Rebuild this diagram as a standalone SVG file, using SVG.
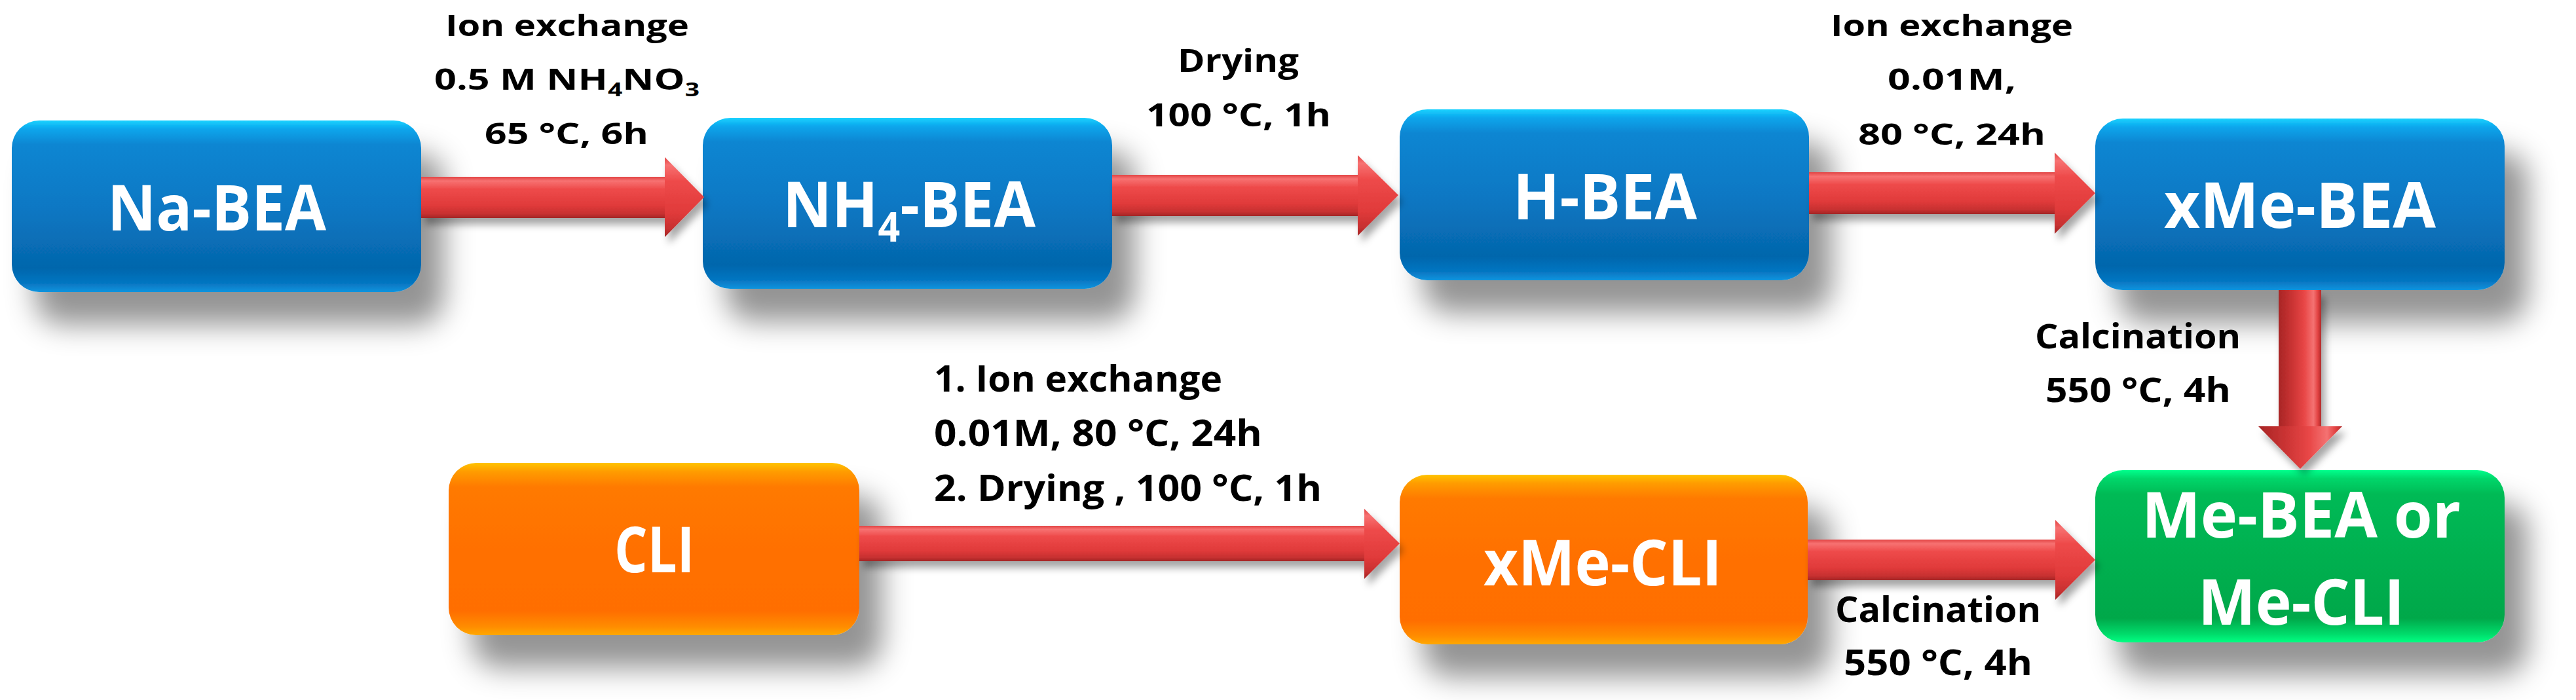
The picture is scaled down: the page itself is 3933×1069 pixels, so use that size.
<svg xmlns="http://www.w3.org/2000/svg" width="3933" height="1069" viewBox="0 0 3933 1069">
<style>
.lbl{font-family:"Open Sans","Liberation Sans",sans-serif;font-weight:700;fill:#000}
.bt{font-family:"Open Sans","Liberation Sans",sans-serif;font-weight:700;fill:#fff}
.blue{fill:url(#gBlue)}
.orange{fill:url(#gOrange)}
.green{fill:url(#gGreen)}
.box{filter:url(#boxShadow)}
.rh{fill:url(#gRedH)}
.rv{fill:url(#gRedV)}
.arr{filter:url(#arrShadow)}
</style>
<defs>
<linearGradient id="gBlue" x1="0" y1="0" x2="0" y2="1">
<stop offset="0" stop-color="#1CD2FF"/>
<stop offset="0.05" stop-color="#08A6EC"/>
<stop offset="0.14" stop-color="#0A86D2"/>
<stop offset="0.5" stop-color="#0A78C4"/>
<stop offset="0.86" stop-color="#0566AC"/>
<stop offset="0.95" stop-color="#0676C2"/>
<stop offset="1" stop-color="#1194DE"/>
</linearGradient>
<linearGradient id="gOrange" x1="0" y1="0" x2="0" y2="1">
<stop offset="0" stop-color="#FFC400"/>
<stop offset="0.05" stop-color="#FF9C00"/>
<stop offset="0.14" stop-color="#FF7A00"/>
<stop offset="0.5" stop-color="#FF7000"/>
<stop offset="0.86" stop-color="#FF6E00"/>
<stop offset="0.95" stop-color="#FF8C00"/>
<stop offset="1" stop-color="#FFA800"/>
</linearGradient>
<linearGradient id="gGreen" x1="0" y1="0" x2="0" y2="1">
<stop offset="0" stop-color="#00FF8C"/>
<stop offset="0.05" stop-color="#00D66A"/>
<stop offset="0.14" stop-color="#00BA55"/>
<stop offset="0.5" stop-color="#00B050"/>
<stop offset="0.86" stop-color="#00A84A"/>
<stop offset="0.95" stop-color="#00DA6A"/>
<stop offset="1" stop-color="#00FF82"/>
</linearGradient>
<linearGradient id="gRedH" x1="0" y1="0" x2="0" y2="1">
<stop offset="0" stop-color="#E24444"/>
<stop offset="0.1" stop-color="#F77272"/>
<stop offset="0.3" stop-color="#EE4A4A"/>
<stop offset="0.7" stop-color="#E03A3A"/>
<stop offset="0.9" stop-color="#C63030"/>
<stop offset="1" stop-color="#A22525"/>
</linearGradient>
<linearGradient id="gRedV" x1="0" y1="0" x2="1" y2="0">
<stop offset="0" stop-color="#A82626"/>
<stop offset="0.3" stop-color="#C83232"/>
<stop offset="0.6" stop-color="#E84646"/>
<stop offset="0.82" stop-color="#F47272"/>
<stop offset="0.92" stop-color="#E24242"/>
<stop offset="1" stop-color="#B02A2A"/>
</linearGradient>
<filter id="boxShadow" x="-20%" y="-20%" width="150%" height="160%">
<feDropShadow dx="35" dy="50" stdDeviation="22" flood-color="#000" flood-opacity="0.42"/>
</filter>
<filter id="arrShadow" x="-10%" y="-30%" width="120%" height="180%">
<feDropShadow dx="6" dy="10" stdDeviation="6" flood-color="#000" flood-opacity="0.35"/>
</filter>
</defs>
<rect width="3933" height="1069" fill="#fff"/>

<g id="node-na-bea">
<rect class="box blue" x="18" y="184" width="625" height="262" rx="42"/>
<text class="bt" x="164" y="352" font-size="97" textLength="334" lengthAdjust="spacingAndGlyphs">Na-BEA</text>
</g>
<g id="node-nh4-bea">
<rect class="box blue" x="1073" y="180" width="625" height="261" rx="42"/>
<text class="bt" x="1195" y="347" font-size="97" textLength="386" lengthAdjust="spacingAndGlyphs">NH<tspan font-size="62" dy="22">4</tspan><tspan dy="-22">-BEA</tspan></text>
</g>
<g id="node-h-bea">
<rect class="box blue" x="2137" y="167" width="625" height="261" rx="42"/>
<text class="bt" x="2310" y="335" font-size="97" textLength="281" lengthAdjust="spacingAndGlyphs">H-BEA</text>
</g>
<g id="node-xme-bea">
<rect class="box blue" x="3199" y="181" width="625" height="262" rx="42"/>
<text class="bt" x="3304" y="348" font-size="97" textLength="415" lengthAdjust="spacingAndGlyphs">xMe-BEA</text>
</g>
<g id="node-cli">
<rect class="box orange" x="685" y="707" width="627" height="263" rx="42"/>
<text class="bt" x="938" y="874" font-size="97" textLength="122" lengthAdjust="spacingAndGlyphs">CLI</text>
</g>
<g id="node-xme-cli">
<rect class="box orange" x="2137" y="725" width="623" height="259" rx="42"/>
<text class="bt" x="2265" y="894" font-size="97" textLength="364" lengthAdjust="spacingAndGlyphs">xMe-CLI</text>
</g>
<g id="node-me">
<rect class="box green" x="3199" y="718" width="625" height="263" rx="42"/>
<text class="bt" x="3270" y="821" font-size="97" textLength="487" lengthAdjust="spacingAndGlyphs">Me-BEA or</text>
<text class="bt" x="3356" y="954" font-size="97" textLength="315" lengthAdjust="spacingAndGlyphs">Me-CLI</text>
</g>

<g id="connectors">
<g class="arr">
<rect class="rh" x="643" y="270" width="374" height="63"/>
<polygon class="rh" points="1015,240 1075,301 1015,362"/>
</g>
<g class="arr">
<rect class="rh" x="1698" y="267" width="377" height="63"/>
<polygon class="rh" points="2073,237 2135,298 2073,360"/>
</g>
<g class="arr">
<rect class="rh" x="2762" y="263" width="377" height="64"/>
<polygon class="rh" points="3137,233 3199,295 3137,357"/>
</g>
<g class="arr">
<rect class="rv" x="3479" y="443" width="65" height="210"/>
<polygon class="rv" points="3448,651 3576,651 3512,716"/>
</g>
<g class="arr">
<rect class="rh" x="1312" y="803" width="773" height="54"/>
<polygon class="rh" points="2083,777 2137,830 2083,884"/>
</g>
<g class="arr">
<rect class="rh" x="2760" y="824" width="380" height="62"/>
<polygon class="rh" points="3138,794 3199,855 3138,916"/>
</g>
</g>

<g id="labels">
<text class="lbl" x="680" y="55" font-size="44" textLength="372" lengthAdjust="spacingAndGlyphs">Ion exchange</text>
<text class="lbl" x="663" y="137" font-size="44" textLength="405" lengthAdjust="spacingAndGlyphs">0.5 M NH<tspan font-size="29" dy="10">4</tspan><tspan dy="-10">NO</tspan><tspan font-size="29" dy="10">3</tspan></text>
<text class="lbl" x="740" y="220" font-size="44" textLength="250" lengthAdjust="spacingAndGlyphs">65 °C, 6h</text>

<text class="lbl" x="1798" y="110" font-size="48" textLength="185" lengthAdjust="spacingAndGlyphs">Drying</text>
<text class="lbl" x="1750" y="193" font-size="48" textLength="282" lengthAdjust="spacingAndGlyphs">100 °C, 1h</text>

<text class="lbl" x="2795" y="55" font-size="44" textLength="370" lengthAdjust="spacingAndGlyphs">Ion exchange</text>
<text class="lbl" x="2882" y="137" font-size="44" textLength="196" lengthAdjust="spacingAndGlyphs">0.01M,</text>
<text class="lbl" x="2837" y="221" font-size="44" textLength="286" lengthAdjust="spacingAndGlyphs">80 °C, 24h</text>

<text class="lbl" x="3107" y="532" font-size="52" textLength="314" lengthAdjust="spacingAndGlyphs">Calcination</text>
<text class="lbl" x="3123" y="614" font-size="52" textLength="283" lengthAdjust="spacingAndGlyphs">550 °C, 4h</text>

<text class="lbl" x="1426" y="598" font-size="56" textLength="440" lengthAdjust="spacingAndGlyphs">1. Ion exchange</text>
<text class="lbl" x="1426" y="681" font-size="56" textLength="501" lengthAdjust="spacingAndGlyphs">0.01M, 80 °C, 24h</text>
<text class="lbl" x="1426" y="765" font-size="56" textLength="592" lengthAdjust="spacingAndGlyphs">2. Drying , 100 °C, 1h</text>

<text class="lbl" x="2802" y="950" font-size="54" textLength="314" lengthAdjust="spacingAndGlyphs">Calcination</text>
<text class="lbl" x="2815" y="1031" font-size="54" textLength="288" lengthAdjust="spacingAndGlyphs">550 °C, 4h</text>
</g>
</svg>
